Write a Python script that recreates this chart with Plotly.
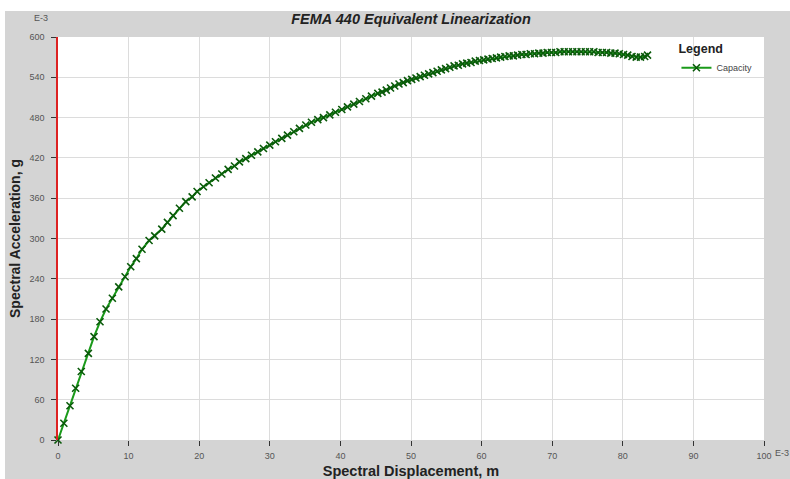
import plotly.graph_objects as go

# Capacity curve (spectral displacement in E-3 m, spectral acceleration in E-3 g)
disp = [0, 0.83, 1.7, 2.5, 3.3, 4.3, 5.1, 5.95, 6.8, 7.7, 8.6, 9.5, 10.3, 11.1, 11.9, 12.9,
        13.7, 14.7, 15.5, 16.3, 17.2, 18.1, 19.0, 19.7, 20.6, 21.4, 22.3, 23.2, 24.1, 25.0, 25.7,
        26.6, 27.4, 28.3, 29.1, 30.0, 30.8, 31.7, 32.5, 33.4, 34.2, 35.1, 35.9, 36.8, 37.6,
        38.5, 39.3, 40.2, 41.0, 41.9, 42.7, 43.6, 44.4, 45.3,
        45.9, 46.5, 47.1, 47.7, 48.3, 48.9, 49.5, 50.1, 50.7, 51.3, 51.9, 52.5, 53.1, 53.7,
        54.3, 54.9, 55.5, 56.1, 56.7, 57.3, 57.9, 58.5, 59.1, 59.7, 60.3, 60.9, 61.5, 62.1,
        62.7, 63.3, 63.9, 64.5, 65.1, 65.7, 66.3, 66.9, 67.5, 68.1, 68.7, 69.3, 69.9, 70.5,
        71.1, 71.7, 72.3, 72.9, 73.5, 74.1, 74.7, 75.3, 75.9, 76.5, 77.1, 77.7, 78.3, 78.9,
        79.5, 80.1, 80.7, 81.3, 81.9, 82.5, 83.1, 83.5]
accel = [0, 25, 51, 77, 102, 129, 154, 176, 195, 211, 228, 243, 258, 270, 284, 297,
         304, 314, 324, 334, 345, 355, 362, 370, 377, 383, 390, 396, 403, 408, 414,
         419, 424, 429, 434, 439, 444, 449, 454, 459, 464, 469, 473, 477, 480,
         484, 488, 492, 496, 500, 504, 508, 512, 516,
         518, 521, 524, 527, 530, 532, 535, 537, 539, 541, 543, 545, 547, 549,
         551, 553, 555, 557, 558, 560, 561, 562, 564, 565, 566, 567, 568, 569,
         570, 571, 572, 572, 573, 574, 574, 575, 575, 576, 576, 577, 577, 577,
         578, 578, 578, 578, 578, 578, 578, 578, 578, 577, 577, 577, 576, 576,
         575, 574, 573, 571, 570, 570, 571, 573]

x_ticks = [0, 10, 20, 30, 40, 50, 60, 70, 80, 90, 100]
x_tick_labels = ["0", "10", "20", "30", "40", "50", "60", "70", "80", "90", "100"]
y_ticks = [0, 60, 120, 180, 240, 300, 360, 420, 480, 540, 600]
y_tick_labels = ["0", "60", "120", "180", "240", "300", "360", "420", "480", "540", "600"]

GRAY = "#d4d4d4"
FONT = "Liberation Sans, Arial, sans-serif"

fig = go.Figure()
fig.add_trace(go.Scatter(
    x=disp, y=accel, mode="lines+markers", name="Capacity",
    line=dict(color="#1a9a1a", width=2),
    marker=dict(symbol="x-thin", size=7, color="#0a5a0a",
                line=dict(color="#0a5a0a", width=1.6)),
    cliponaxis=False,
))

W, H = 790, 479
L, R, T, B = 58, 26, 37, 39
ph = H - T - B
pw = W - L - R

# white strips at top and left of the image (outside the gray frame)
fig.add_shape(type="rect", xref="paper", yref="paper",
              x0=-L / pw, x1=1 + R / pw, y0=1 + (T - 11) / ph, y1=1 + T / ph,
              fillcolor="white", line=dict(width=0), layer="below")
fig.add_shape(type="rect", xref="paper", yref="paper",
              x0=-L / pw, x1=-(L - 5) / pw, y0=-B / ph, y1=1 + T / ph,
              fillcolor="white", line=dict(width=0), layer="below")
# plot area
fig.add_shape(type="rect", xref="paper", yref="paper", x0=0, x1=1, y0=0, y1=1,
              fillcolor="white", line=dict(width=0), layer="below")

fig.update_layout(
    width=W, height=H,
    margin=dict(l=L, r=R, t=T, b=B, autoexpand=False),
    paper_bgcolor=GRAY, plot_bgcolor="white",
    font=dict(family=FONT, color="#333"),
    title=dict(text="<b><i>FEMA 440 Equivalent Linearization</i></b>",
               x=0.5, xref="paper", xanchor="center", y=1 - 19 / H, yanchor="middle",
               font=dict(size=14.5, color="#222")),
    showlegend=True,
    legend=dict(title=dict(text="<b>Legend</b>", side="top", font=dict(size=12.5, color="#222")),
                x=0.876, y=1.0, xanchor="left", yanchor="top",
                bgcolor="rgba(255,255,255,0)", font=dict(size=9, color="#444"),
                itemwidth=30, tracegroupgap=0),
)
fig.update_xaxes(
    range=[0, 100], tickmode="array", tickvals=x_ticks, ticktext=x_tick_labels,
    showgrid=True, gridcolor="#dcdcdc", gridwidth=1, zeroline=False, automargin=False,
    showline=False, ticks="outside", ticklen=5, tickcolor="#333", tickwidth=1,
    ticklabelstandoff=2,
    tickfont=dict(size=9, color="#555"),
    title=dict(text="<b>Spectral Displacement, m</b>", font=dict(size=14.5, color="#222"), standoff=6),
)
fig.update_yaxes(
    range=[0, 600], tickmode="array", tickvals=y_ticks, ticktext=y_tick_labels,
    showgrid=True, gridcolor="#dcdcdc", gridwidth=1, zeroline=False, automargin=False,
    showline=True, linecolor="#dd2222", linewidth=1.5,
    ticks="outside", ticklen=5, tickcolor="#333", tickwidth=1,
    ticklabelstandoff=5,
    tickfont=dict(size=9, color="#555"),
    title=dict(text="<b>Spectral Acceleration, g</b>", font=dict(size=14, color="#222"), standoff=6),
)
fig.add_annotation(text="E-3", xref="paper", yref="paper", x=-8 / pw, y=1 + 19 / ph,
                   showarrow=False, font=dict(size=9, color="#555"), xanchor="right", yanchor="middle")
fig.add_annotation(text="E-3", xref="paper", yref="paper", x=1 + 9 / pw, y=-13 / ph,
                   showarrow=False, font=dict(size=9, color="#555"), xanchor="left", yanchor="middle")

fig.write_html("out.html")
